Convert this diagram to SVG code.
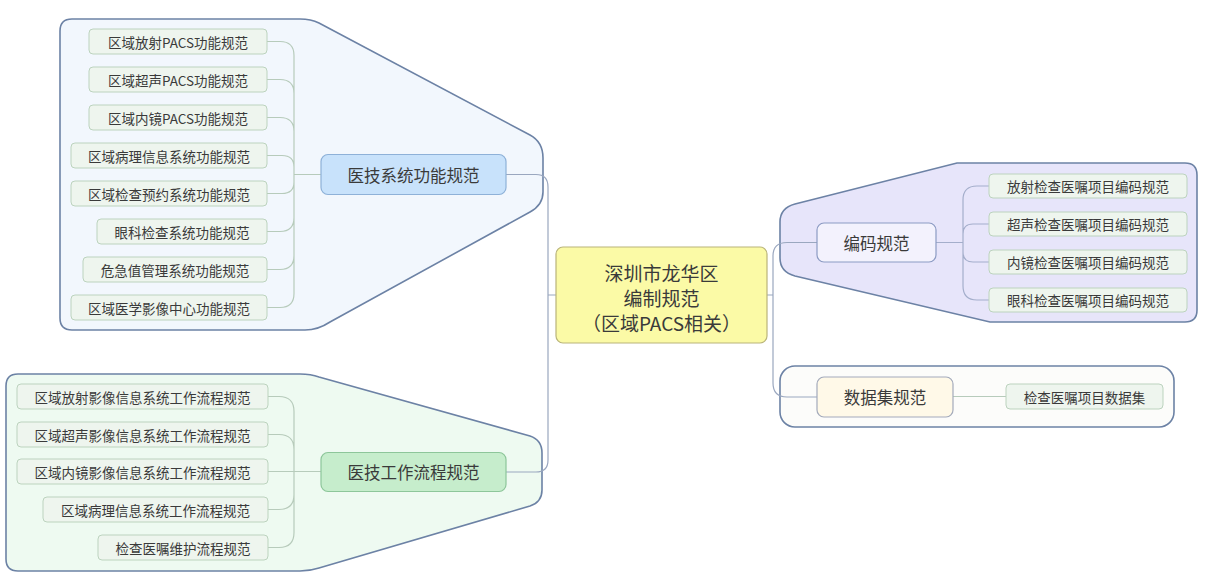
<svg xmlns="http://www.w3.org/2000/svg" width="1205" height="582" viewBox="0 0 1205 582">
<style>
text{font-family:"Noto Sans CJK SC","Microsoft YaHei",sans-serif;fill:#3a3a3a;text-anchor:middle;dominant-baseline:central}
.grp{stroke:#6c82a5;stroke-width:1.6}
.leaf rect{fill:#eef5ee;stroke:#bcd3be;stroke-width:1}
.leaf text{font-size:13.5px}
.main text{font-size:16.5px}
.cl{fill:none;stroke:#b7cbbb;stroke-width:1.2}
.ml{fill:none;stroke:#9aa7bf;stroke-width:1.2}
.bl{fill:none;stroke:#a4aecb;stroke-width:1.2}
</style>
<rect width="1205" height="582" fill="#ffffff"/>
<g id="boundaries">
<path class="grp" fill="#f2f7fd" d="M72 19 H300 Q311 19 319 23 L530 135 Q543 142 543 158 V192 Q543 205 530 212 L330 322 Q318 330 305 330 H72 Q60 330 60 318 V31 Q60 19 72 19 Z"/>
<path class="grp" fill="#eefaf1" d="M18 374 H300 Q311 374 319 377 L530 436 Q542 440 542 453 V490 Q542 502 530 506 L319 568 Q310 571 300 571 H18 Q6 571 6 559 V386 Q6 374 18 374 Z"/>
<path class="grp" fill="#e7e5fa" d="M957 163 H1185 Q1197 163 1197 175 V310 Q1197 322 1185 322 H990 L795 276 Q780 272 780 258 V222 Q780 208 795 204 Z"/>
<rect class="grp" fill="#fcfcfa" x="780" y="366" width="394" height="61" rx="15"/>
</g>
<g id="connectors">
<path class="cl" d="M267 41.5 H280 Q294 41.5 294 55.5 V174.5 M267 79.5 H280 Q294 79.5 294 93.5 V174.5 M267 117.5 H280 Q294 117.5 294 131.5 V174.5 M267 155.5 H282 Q294 155.5 294 167 V174.5 M267 193.5 H282 Q294 193.5 294 182 V174.5 M267 231.5 H280 Q294 231.5 294 217.5 V174.5 M267 269.5 H280 Q294 269.5 294 255.5 V174.5 M267 307.5 H280 Q294 307.5 294 293.5 V174.5 M294 174.5 H321"/>
<path class="cl" d="M268 396.5 H279 Q294 396.5 294 411.5 V472 M268 434.5 H279 Q294 434.5 294 449.5 V472 M268 471.5 H321 M268 509.5 H279 Q294 509.5 294 494.5 V472 M268 547.5 H279 Q294 547.5 294 532.5 V472"/>
<path class="ml" d="M506 174.5 H536 Q548 174.5 548 187 V460 Q548 472 536 472 H506 M548 295 H556"/>
<path class="ml" d="M767 295 H773 M817 242.5 H787 Q773 242.5 773 256 V383 Q773 397 787 397 H817"/>
<path class="bl" d="M936 242.5 H963 M989 186 H977 Q963 186 963 200 V242.5 M989 224 H973 Q963 224 963 234 V242.5 M989 262 H973 Q963 262 963 252 V242.5 M989 300 H977 Q963 300 963 286 V242.5"/>
<path class="cl" d="M953 396.5 H1006"/>
</g>
<g id="center" class="main">
<rect x="556" y="247" width="211" height="96" rx="7" fill="#fbfaa6" stroke="#b9b47a" stroke-width="1.2"/>
<text x="661.5" y="272" style="font-size:19px">深圳市龙华区</text>
<text x="661.5" y="297" style="font-size:19px">编制规范</text>
<text x="661.5" y="322" style="font-size:19px">（区域PACS相关）</text>
</g>
<g id="n-yjxtgnfg" class="main">
<rect x="321" y="154.5" width="185" height="40" rx="7" fill="#c8e2fb" stroke="#8eb1d8" stroke-width="1.2"/>
<text x="413.5" y="174.5">医技系统功能规范</text>
</g>
<g id="n-yjgzlcgf" class="main">
<rect x="321" y="452.5" width="185" height="39" rx="7" fill="#c6edcc" stroke="#8dc69a" stroke-width="1.2"/>
<text x="413.5" y="472">医技工作流程规范</text>
</g>
<g id="n-bmgf" class="main">
<rect x="817" y="223" width="119" height="39" rx="7" fill="#f3f2fd" stroke="#8c9bc3" stroke-width="1.2"/>
<text x="876.5" y="242.5">编码规范</text>
</g>
<g id="n-sjjgf" class="main">
<rect x="817" y="377" width="136" height="40" rx="7" fill="#fff9e8" stroke="#a3aabb" stroke-width="1.2"/>
<text x="885" y="397">数据集规范</text>
</g>
<g id="t1" class="leaf"><rect x="89" y="29" width="178" height="25" rx="4"/><text x="178" y="41.5">区域放射PACS功能规范</text></g>
<g id="t2" class="leaf"><rect x="89" y="67" width="178" height="25" rx="4"/><text x="178" y="79.5">区域超声PACS功能规范</text></g>
<g id="t3" class="leaf"><rect x="89" y="105" width="178" height="25" rx="4"/><text x="178" y="117.5">区域内镜PACS功能规范</text></g>
<g id="t4" class="leaf"><rect x="71" y="143" width="196" height="25" rx="4"/><text x="169" y="155.5">区域病理信息系统功能规范</text></g>
<g id="t5" class="leaf"><rect x="71" y="181" width="196" height="25" rx="4"/><text x="169" y="193.5">区域检查预约系统功能规范</text></g>
<g id="t6" class="leaf"><rect x="97" y="219" width="170" height="25" rx="4"/><text x="182" y="231.5">眼科检查系统功能规范</text></g>
<g id="t7" class="leaf"><rect x="83" y="257" width="184" height="25" rx="4"/><text x="175" y="269.5">危急值管理系统功能规范</text></g>
<g id="t8" class="leaf"><rect x="71" y="295" width="196" height="25" rx="4"/><text x="169" y="307.5">区域医学影像中心功能规范</text></g>
<g id="b1" class="leaf"><rect x="17" y="384" width="251" height="25" rx="4"/><text x="142.5" y="396.5">区域放射影像信息系统工作流程规范</text></g>
<g id="b2" class="leaf"><rect x="17" y="422" width="251" height="25" rx="4"/><text x="142.5" y="434.5">区域超声影像信息系统工作流程规范</text></g>
<g id="b3" class="leaf"><rect x="17" y="459" width="251" height="25" rx="4"/><text x="142.5" y="471.5">区域内镜影像信息系统工作流程规范</text></g>
<g id="b4" class="leaf"><rect x="43" y="497" width="225" height="25" rx="4"/><text x="155.5" y="509.5">区域病理信息系统工作流程规范</text></g>
<g id="b5" class="leaf"><rect x="98" y="535" width="170" height="25" rx="4"/><text x="183" y="547.5">检查医嘱维护流程规范</text></g>
<g id="r1" class="leaf"><rect x="989" y="174" width="198" height="24" rx="4"/><text x="1088" y="186">放射检查医嘱项目编码规范</text></g>
<g id="r2" class="leaf"><rect x="989" y="212" width="198" height="24" rx="4"/><text x="1088" y="224">超声检查医嘱项目编码规范</text></g>
<g id="r3" class="leaf"><rect x="989" y="250" width="198" height="24" rx="4"/><text x="1088" y="262">内镜检查医嘱项目编码规范</text></g>
<g id="r4" class="leaf"><rect x="989" y="288" width="198" height="24" rx="4"/><text x="1088" y="300">眼科检查医嘱项目编码规范</text></g>
<g id="d1" class="leaf"><rect x="1006" y="384" width="157" height="25" rx="4"/><text x="1084.5" y="396.5">检查医嘱项目数据集</text></g>
</svg>
